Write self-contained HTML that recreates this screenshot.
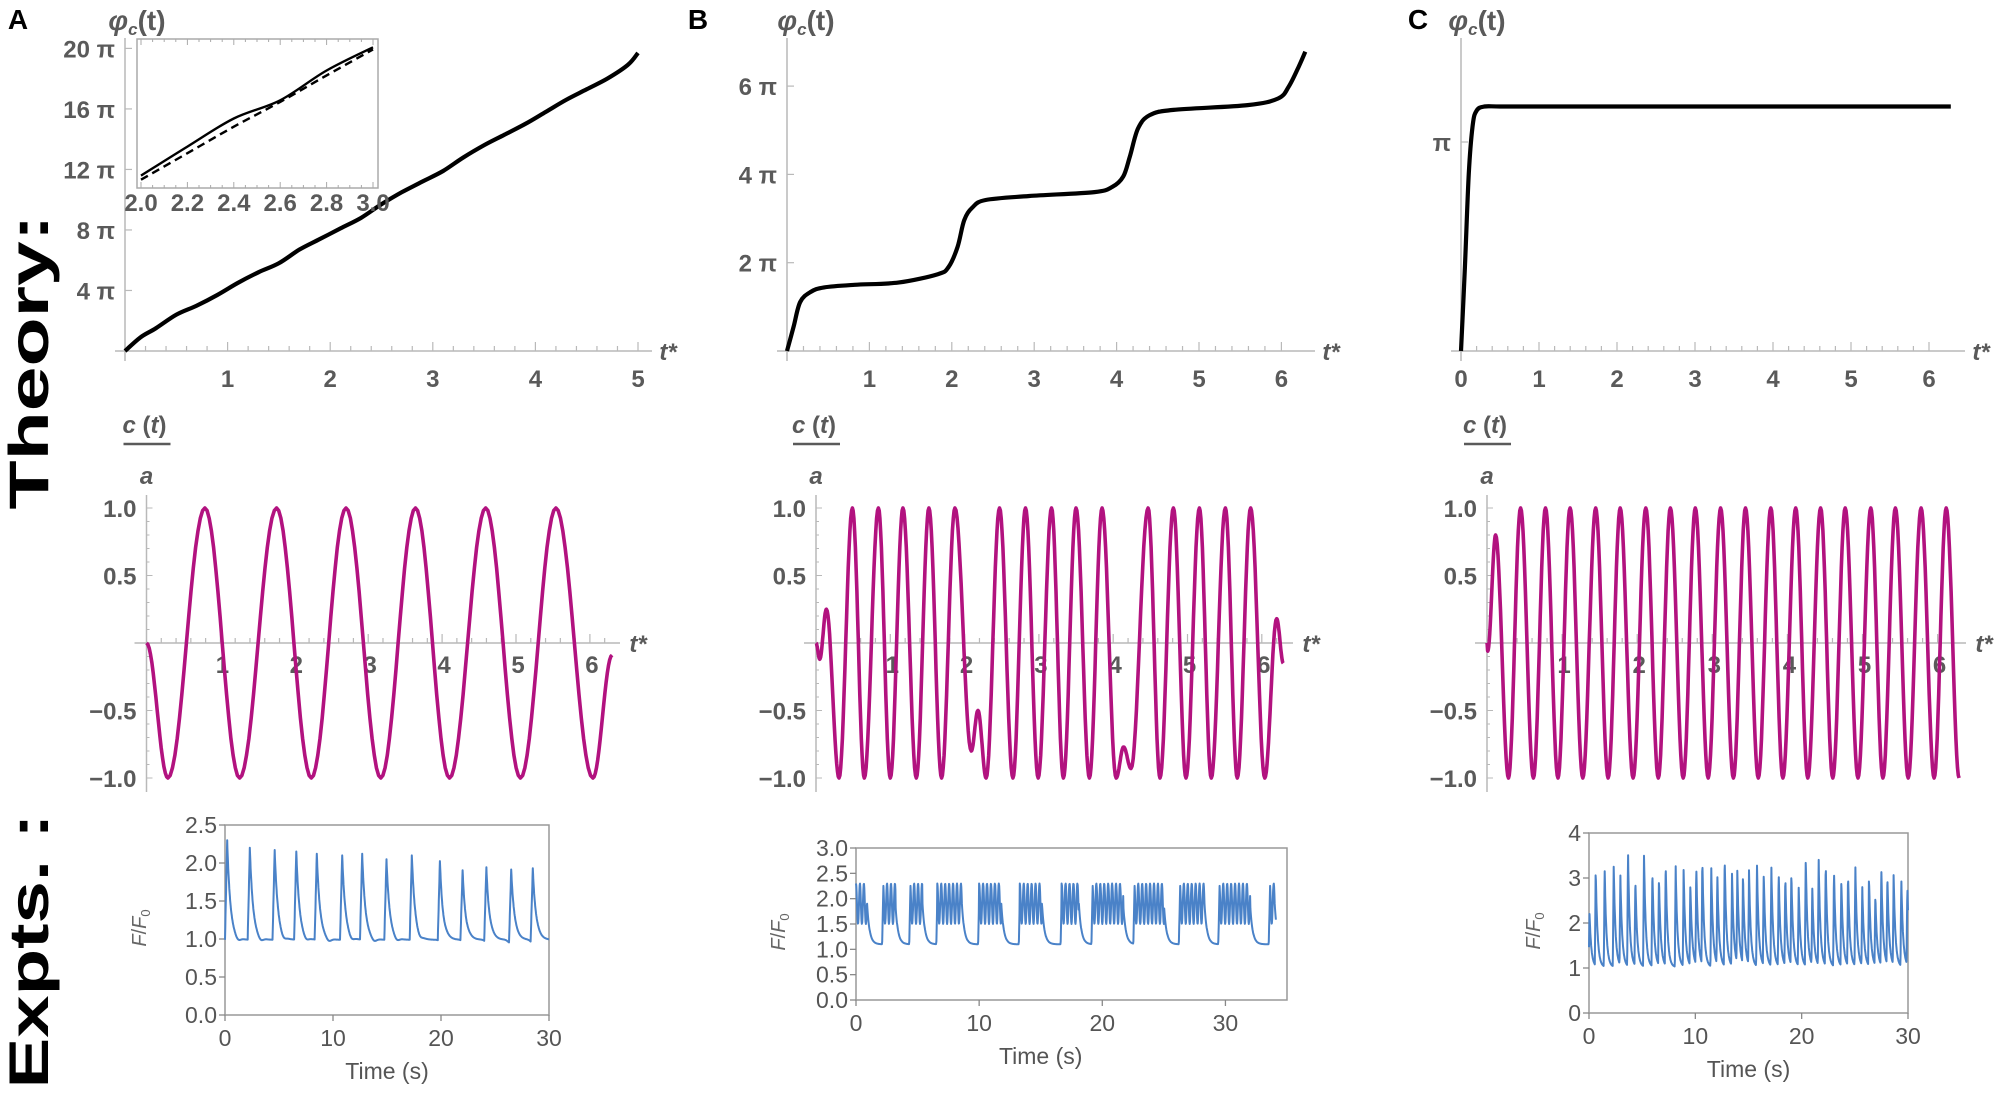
<!DOCTYPE html>
<html><head><meta charset="utf-8">
<style>
html,body{margin:0;padding:0;background:#fff;}
svg{display:block;font-family:"Liberation Sans",sans-serif;}
.tl{font-weight:bold;fill:#5a5a5a;font-size:24px;}
.el{fill:#555;font-size:23px;}
</style></head>
<body>
<svg id="fig" width="1994" height="1096" viewBox="0 0 1994 1096" xmlns="http://www.w3.org/2000/svg"></svg>
<script>
// ---------- DATA ----------
const phiA_t = [0,0.15,0.3,0.5,0.7,0.9,1.1,1.3,1.5,1.7,1.9,2.1,2.3,2.5,2.7,2.9,3.1,3.3,3.5,3.7,3.9,4.1,4.3,4.5,4.7,4.9,5.0];
const phiA_v = [0,0.9,1.5,2.4,3.0,3.7,4.5,5.2,5.8,6.7,7.4,8.1,8.8,9.7,10.5,11.2,11.9,12.8,13.6,14.3,15.0,15.8,16.6,17.3,18.0,18.9,19.7];
const insetT = [2.0,2.2,2.4,2.6,2.8,3.0];
const insetSolid = [12.25,14.0,15.7,16.8,18.6,20.0];
const insetDashed = [12.0,13.6,15.2,16.7,18.3,19.87];
const phiB_t = [0,0.08,0.16,0.29,0.45,0.82,1.35,1.83,1.96,2.07,2.15,2.25,2.41,2.94,3.73,3.95,4.08,4.16,4.26,4.4,4.69,5.59,5.96,6.09,6.21,6.29];
const phiB_v = [0,0.55,1.11,1.34,1.44,1.5,1.55,1.74,1.9,2.36,2.96,3.25,3.42,3.51,3.6,3.72,3.95,4.4,5.04,5.34,5.46,5.57,5.72,5.99,6.44,6.78];
const phiC_t = [0,0.05,0.1,0.15,0.2,0.3,0.5,1,2,3,4,5,6,6.28];
const phiC_v = [0,0.4,0.85,1.08,1.15,1.17,1.17,1.17,1.17,1.17,1.17,1.17,1.17,1.17];
const cA_t = [0,0.29,0.79,1.26,1.76,2.23,2.7,3.17,3.64,4.1,4.59,5.06,5.54,6.04,6.3];
const cA_v = [0,-1,1,-1,1,-1,1,-1,1,-1,1,-1,1,-1,-0.09];
const cB_t = [0,0.05,0.14,0.31,0.49,0.65,0.84,1.0,1.17,1.35,1.52,1.69,1.87,2.09,2.18,2.29,2.47,2.65,2.82,2.99,3.17,3.33,3.5,3.68,3.85,4.04,4.14,4.24,4.47,4.63,4.81,4.98,5.16,5.32,5.51,5.67,5.85,6.04,6.2,6.29];
const cB_v = [0,-0.12,0.25,-1,1,-1,1,-1,1,-1,1,-1,1,-0.8,-0.5,-1,1,-1,1,-1,1,-1,1,-1,1,-1,-0.77,-0.93,1,-1,1,-1,1,-1,1,-1,1,-1,0.18,-0.15];
const cC_t = [0,0.01,0.115,0.286,0.447,0.618,0.779,0.945,1.106,1.276,1.447,1.613,1.774,1.945,2.115,2.281,2.442,2.613,2.774,2.945,3.111,3.281,3.442,3.613,3.779,3.94,4.111,4.272,4.442,4.604,4.77,4.94,5.11,5.272,5.438,5.608,5.78,5.954,6.115,6.286];
const cC_v = [0,-0.06,0.8,-1,1,-1,1,-1,1,-1,1,-1,1,-1,1,-1,1,-1,1,-1,1,-1,1,-1,1,-1,1,-1,1,-1,1,-1,1,-1,1,-1,1,-1,1,-1];
const expA_peakT = [0.2,2.3,4.6,6.6,8.5,10.85,12.7,14.95,17.3,19.9,22.0,24.2,26.5,28.5];
const expA_peakH = [2.3,2.2,2.17,2.15,2.12,2.1,2.12,2.05,2.1,2.05,1.93,1.98,1.95,1.97];
const expB_start = [0,2.2,4.4,6.6,10.0,13.3,16.7,19.2,22.6,26.3,29.5,33.6];
const expB_end = [0.9,3.2,5.4,8.6,11.8,15.1,18.1,21.7,25.0,28.3,32.0,34.0];
const expC_peakT = [0.05,0.63,1.47,2.32,2.95,3.67,4.36,5.17,5.96,6.58,7.21,8.15,8.9,9.53,10.09,10.66,11.5,12.07,12.76,13.45,13.95,14.48,15.05,15.8,16.43,17.15,17.84,18.46,19.03,19.72,20.38,21.0,21.6,22.26,23.04,23.73,24.36,25.05,25.7,26.33,26.93,27.49,28.06,28.65,29.37,29.94];
const expC_peakH = [2.2,3.15,3.2,3.3,3.0,3.55,2.95,3.55,3.15,2.95,3.3,3.25,3.15,2.85,3.2,3.35,3.2,3.0,3.45,3.05,3.05,3.0,3.1,3.25,3.1,3.2,3.1,3.0,3.05,2.8,3.45,2.7,3.35,3.3,3.15,2.95,3.05,3.2,2.75,3.0,2.55,3.2,3.0,3.0,2.95,2.75];
const topTicksA = ["4 π","8 π","12 π","16 π","20 π"];
const topTicksB = ["2 π","4 π","6 π"];
const midTicks = ["1.0","0.5","−0.5","−1.0"];
const midTickVals = [1,0.5,-0.5,-1];

// ---------- HELPERS ----------
const NS="http://www.w3.org/2000/svg";
const svg=document.getElementById('fig');
function mk(tag,attrs,parent){const e=document.createElementNS(NS,tag);for(const k in attrs)e.setAttribute(k,attrs[k]);(parent||svg).appendChild(e);return e;}
function txt(s,x,y,cls,anchor,parent){const e=mk('text',{x:x,y:y,'class':cls,'text-anchor':anchor||'middle'},parent);e.textContent=s;return e;}
function catmull(pts){let d='M'+pts[0][0].toFixed(1)+','+pts[0][1].toFixed(1);for(let i=0;i<pts.length-1;i++){const p0=pts[i-1]||pts[i],p1=pts[i],p2=pts[i+1],p3=pts[i+2]||p2;const c1=[p1[0]+(p2[0]-p0[0])/6,p1[1]+(p2[1]-p0[1])/6],c2=[p2[0]-(p3[0]-p1[0])/6,p2[1]-(p3[1]-p1[1])/6];d+='C'+c1[0].toFixed(1)+','+c1[1].toFixed(1)+' '+c2[0].toFixed(1)+','+c2[1].toFixed(1)+' '+p2[0].toFixed(1)+','+p2[1].toFixed(1);}return d;}
function cosPath(ts,vs,X,Y){let d='';for(let i=0;i<ts.length-1;i++){const n=16;for(let k=0;k<=n;k++){if(i>0&&k===0)continue;const s=k/n;const t=ts[i]+(ts[i+1]-ts[i])*s;const v=vs[i]+(vs[i+1]-vs[i])*(1-Math.cos(Math.PI*s))/2;d+=(d?'L':'M')+X(t).toFixed(1)+','+Y(v).toFixed(1);}}return d;}
const AX='#b9b9b9';

// ---------- Big row labels ----------
let g=mk('text',{x:0,y:0,transform:'translate(48,362) rotate(-90)','text-anchor':'middle','font-size':'56','font-weight':'bold',fill:'#000',textLength:'295',lengthAdjust:'spacingAndGlyphs'});
g.textContent='Theory:';
g=mk('text',{x:0,y:0,transform:'translate(48,951) rotate(-90)','text-anchor':'middle','font-size':'56','font-weight':'bold',fill:'#000',textLength:'275',lengthAdjust:'spacingAndGlyphs'});
g.textContent='Expts. :';

// ---------- Top phase panels ----------
function topPanel(id,letter,letterX,labX,ox,unit,xEnd,piPx,ticks,tickVals,nT,ts,vs,showZero){
  const grp=mk('g',{});
  
  
  const X=t=>ox+t*unit, Y=v=>351-v*piPx;
  const L=txt(letter,letterX,29,'', 'middle',grp);L.setAttribute('font-size','28');L.setAttribute('font-weight','bold');
  
  
  const yl=mk('text',{x:labX,y:30,'font-size':'28','font-weight':'bold',fill:'#5a5a5a','text-anchor':'middle'},grp);
  
  
  yl.innerHTML='<tspan font-style="italic">φ</tspan><tspan font-size="17" dy="5" font-style="italic">c</tspan><tspan dy="-5">(t)</tspan>';
  mk('line',{x1:ox,y1:38,x2:ox,y2:361,stroke:AX,'stroke-width':1.5},grp);
  mk('line',{x1:ox-10,y1:351,x2:xEnd,y2:351,stroke:AX,'stroke-width':1.5},grp);
  for(let i=0;i<=nT*5;i++){const t=i/5;if(X(t)>xEnd)break;mk('line',{x1:X(t),y1:351,x2:X(t),y2:i%5?346:342,stroke:AX,'stroke-width':1.2},grp);}
  for(let i=showZero?0:1;i<=nT;i++){const e=txt(String(i),X(i),387,'tl','middle',grp);}
  for(let i=0;i<ticks.length;i++){const y=Y(tickVals[i]);mk('line',{x1:ox,y1:y,x2:ox+7,y2:y,stroke:AX,'stroke-width':1.2},grp);const e=txt(ticks[i],ox-10,y+9,'tl','end',grp);e.setAttribute('font-size','26');}
  const ts2=txt('t*',xEnd+16,360,'tl','middle',grp);ts2.setAttribute('font-style','italic');ts2.setAttribute('font-size','26');
  
  const p=mk('path',{d:catmull(ts.map((t,i)=>[X(t),Y(vs[i])])),fill:'none',stroke:'#000','stroke-width':4.2,'stroke-linejoin':'round'},grp);
  
  
}
topPanel('a','A',18,137,125,102.6,652,15.13,topTicksA,[4,8,12,16,20],5,phiA_t,phiA_v,false);
topPanel('b','B',698,806,787,82.4,1315,44.15,topTicksB,[2,4,6],6,phiB_t,phiB_v,false);
topPanel('c','C',1418,1477,1461,78,1965,209,['π'],[1],6,phiC_t,phiC_v,true);

// Inset in A
(function(){
  const grp=mk('g',{});
  
  
  const x0=137,x1=378,y0=39,y1=188;
  mk('rect',{x:x0,y:y0,width:x1-x0,height:y1-y0,fill:'#fff',stroke:'#aaa','stroke-width':1.5},grp);
  const X=t=>141+(t-2)*232, Y=v=>y1-(v-11.5)/9*(y1-y0);
  for(let i=0;i<=20;i++){const t=2+i*0.05;const big=i%4===0;mk('line',{x1:X(t),y1:y1,x2:X(t),y2:y1-(big?6:3),stroke:'#aaa'},grp);mk('line',{x1:X(t),y1:y0,x2:X(t),y2:y0+(big?6:3),stroke:'#aaa'},grp);}
  for(let i=0;i<=5;i++){const t=2+i*0.2;const e=txt(t.toFixed(1),X(t),211,'tl','middle',grp);e.setAttribute('font-size','18');}
  let p=mk('path',{d:catmull(insetT.map((t,i)=>[X(t),Y(insetSolid[i])])),fill:'none',stroke:'#000','stroke-width':2.4},grp);
  
  p=mk('path',{d:catmull(insetT.map((t,i)=>[X(t),Y(insetDashed[i])])),fill:'none',stroke:'#000','stroke-width':2.4,'stroke-dasharray':'8,5'},grp);
  
})();

// ---------- Middle c(t)/a panels ----------
function midPanel(id,ox,unit,xEnd,ts,vs){
  const grp=mk('g',{});
  
  
  const X=t=>ox+t*unit, Y=v=>643-v*135;
  const c=txt('',ox-2,433,'tl','middle',grp);c.setAttribute('font-size','25');c.innerHTML='<tspan font-style="italic">c</tspan> (<tspan font-style="italic">t</tspan>)';
  
  mk('line',{x1:ox-23,y1:444,x2:ox+24,y2:444,stroke:'#5a5a5a','stroke-width':2.5},grp);
  const a=txt('a',ox,484,'tl','middle',grp);a.setAttribute('font-style','italic');a.setAttribute('font-size','24');
  mk('line',{x1:ox,y1:495,x2:ox,y2:792,stroke:AX,'stroke-width':1.5},grp);
  mk('line',{x1:ox-12,y1:643,x2:xEnd,y2:643,stroke:AX,'stroke-width':1.5},grp);
  for(let i=1;i<=32;i++){const t=i/5;if(X(t)>xEnd-4)break;mk('line',{x1:X(t),y1:643,x2:X(t),y2:i%5?638:634,stroke:AX,'stroke-width':1.2},grp);}
  for(let i=-10;i<=10;i++){if(!i)continue;mk('line',{x1:ox,y1:Y(i/10),x2:ox+(i%5?3:6),y2:Y(i/10),stroke:AX},grp);}
  for(let i=1;i<=6;i++){const e=txt(String(i),X(i)+2,673,'tl','middle',grp);}
  for(let i=0;i<midTicks.length;i++){const e=txt(midTicks[i],ox-10,Y(midTickVals[i])+9,'tl','end',grp);e.setAttribute('font-size','25');}
  const tt=txt('t*',xEnd+18,652,'tl','middle',grp);tt.setAttribute('font-style','italic');tt.setAttribute('font-size','26');
  
  const p=mk('path',{d:cosPath(ts,vs,X,Y),fill:'none',stroke:'#b2127f','stroke-width':3.6,'stroke-linejoin':'round'},grp);
  
  
}
midPanel('a',146.5,73.9,620,cA_t,cA_v);
midPanel('b',816,74.3,1293,cB_t,cB_v);
midPanel('c',1487,75.1,1966,cC_t,cC_v);

// ---------- Experiment panels ----------
function expPanel(id,bx0,bx1,by0,by1,xMax,yMax,yStep,yDec,xTicks,labX,fn){
  const grp=mk('g',{});
  
  
  const X=t=>bx0+t*(bx1-bx0)/xMax, Y=v=>by1-v*(by1-by0)/yMax;
  mk('rect',{x:bx0,y:by0,width:bx1-bx0,height:by1-by0,fill:'none',stroke:'#999','stroke-width':1.5},grp);
  for(let v=0;v<=yMax+1e-9;v+=yStep){mk('line',{x1:bx0-6,y1:Y(v),x2:bx0,y2:Y(v),stroke:'#888','stroke-width':1.3},grp);const e=txt(v.toFixed(yDec),bx0-8,Y(v)+8,'el','end',grp);}
  for(const t of xTicks){mk('line',{x1:X(t),y1:by1,x2:X(t),y2:by1+6,stroke:'#888','stroke-width':1.3},grp);const e=txt(String(t),X(t),by1+31,'el','middle',grp);e.setAttribute('font-size','25');}
  const xl=txt('Time (s)',(X(0)+X(30))/2,by1+64,'el','middle',grp);xl.setAttribute('font-size','22');
  
  const yl=mk('text',{x:0,y:0,transform:'translate('+labX+','+((by0+by1)/2+8)+') rotate(-90)','text-anchor':'middle','font-size':'20',fill:'#666'},grp);
  yl.innerHTML='<tspan font-style="italic">F</tspan>/<tspan font-style="italic">F</tspan><tspan font-size="13" dy="4">0</tspan>';
  
  let d='';const step=0.025;
  for(let t=0;t<=fn.tEnd+1e-9;t+=step){d+=(d?'L':'M')+X(t).toFixed(1)+','+Y(fn(t)).toFixed(1);}
  const p=mk('path',{d:d,fill:'none',stroke:'#4a82c8','stroke-width':2,'stroke-linejoin':'round'},grp);
  
  
}
function spikeSum(t,pt,ph,base,rise,tau){let v=base;for(let i=0;i<pt.length;i++){const dt=t-pt[i];if(dt<-rise)continue;if(dt<0)v+=(ph[i]-base)*(1+dt/rise);else v+=(ph[i]-base)*Math.exp(-dt/tau);}return v;}
const fA=t=>spikeSum(t,expA_peakT,expA_peakH,0.99,0.2,0.3)-0.04*Math.exp(-Math.pow(((t%2.1)-1.2)/0.3,2));fA.tEnd=30;
const fB=t=>{for(let i=0;i<expB_start.length;i++){const s=expB_start[i],e=expB_end[i];if(t>=s-0.08&&t<=e){if(t<s)return 1.1+0.9*(t-s+0.08)/0.08;return 1.9+0.4*Math.cos(2*Math.PI*(t-s)/0.32);}}
  let v=1.1;for(let i=0;i<expB_end.length;i++){const dt=t-expB_end[i];if(dt>0)v+=0.8*Math.exp(-dt/0.2);}return Math.min(v,2.3);};fB.tEnd=34.1;
const fC=t=>spikeSum(t,expC_peakT,expC_peakH,1.02,0.08,0.17);fC.tEnd=30;
expPanel('a',225,549,825,1015,30,2.5,0.5,1,[0,10,20,30],146,fA);
expPanel('b',856,1287,848,1000,35,3,0.5,1,[0,10,20,30],785,fB);
expPanel('c',1589,1908,833,1013,30,4,1,0,[0,10,20,30],1540,fC);
</script>
</body></html>
